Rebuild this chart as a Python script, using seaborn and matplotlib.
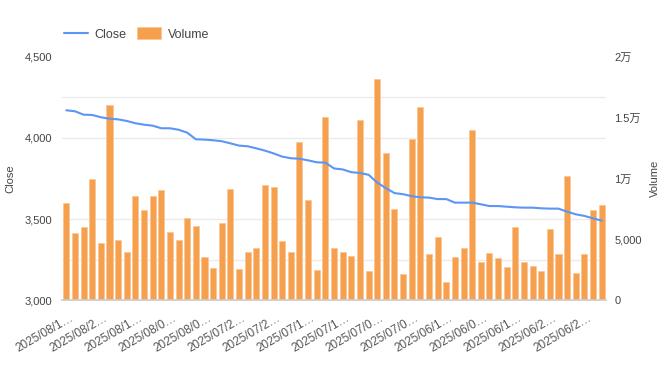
import matplotlib
matplotlib.use('Agg')
import matplotlib.pyplot as plt
import matplotlib.transforms as mtransforms
import numpy as np
import pandas as pd
import seaborn as sns

# Valores (63 pregões, do mais recente para o mais antigo)
close = [4171, 4165, 4144, 4142, 4128, 4119, 4115, 4105, 4091, 4082,
         4076, 4060, 4060, 4051, 4033, 3992, 3990, 3986, 3980, 3967,
         3953, 3949, 3936, 3922, 3905, 3885, 3875, 3872, 3862, 3850,
         3848, 3812, 3806, 3789, 3784, 3773, 3725, 3691, 3660, 3653,
         3641, 3634, 3632, 3623, 3623, 3601, 3601, 3601, 3591, 3580,
         3580, 3576, 3572, 3570, 3570, 3566, 3564, 3564, 3545, 3529,
         3519, 3504, 3490]

volume = [8000, 5550, 6040, 9920, 4730, 16040, 4920, 3910, 8520, 7430,
          8520, 9040, 5630, 4920, 6720, 6120, 3520, 2620, 6340, 9160,
          2520, 3910, 4240, 9430, 9320, 4840, 3930, 13030, 8220, 2430,
          15030, 4320, 3930, 3630, 14810, 2350, 18200, 12100, 7520, 2130,
          13220, 15900, 3750, 5220, 1450, 3550, 4240, 14020, 3140, 3830,
          3420, 2730, 6040, 3140, 2840, 2350, 5840, 3750, 10220, 2240,
          3750, 7430, 7840]

# Rótulos do eixo X (um a cada 4 barras, já truncados como no original)
date_labels = ['2025/08/1…', '2025/08/2…', '2025/08/1…', '2025/08/0…',
               '2025/08/0…', '2025/07/2…', '2025/07/2…', '2025/07/1…',
               '2025/07/1…', '2025/07/0…', '2025/07/0…', '2025/06/1…',
               '2025/06/0…', '2025/06/1…', '2025/06/2…', '2025/06/2…']

close_ticks = [3000, 3500, 4000, 4500]
volume_ticks = [0, 5000, 10000, 15000, 20000]
volume_tick_labels = ['0', '5,000', '1万', '1.5万', '2万']

df = pd.DataFrame({'idx': range(len(close)), 'Close': close, 'Volume': volume})

sns.set_theme(style='white')
plt.rcParams['font.family'] = ['Liberation Sans', 'Noto Sans CJK JP', 'DejaVu Sans']

fig = plt.figure(figsize=(6.62, 3.66), dpi=100)
ax = fig.add_axes([0.0937, 0.1803, 0.8217, 0.664])
ax2 = ax.twinx()

# Barras de volume no eixo da direita
sns.barplot(x='idx', y='Volume', data=df, ax=ax2, color='#f6a04e', saturation=1,
            width=0.7, edgecolor='#f9c696', linewidth=0.5, label='Volume')

# Grade horizontal (fica atrás das barras)
ax2.set_ylim(0, 20000)
ax2.set_yticks(np.linspace(0, 20000, 7), minor=True)
ax2.grid(True, which='minor', axis='y', color='#ebebeb', linewidth=1)
ax2.grid(False, which='major')
ax2.set_axisbelow(True)

# Linha de fechamento no eixo da esquerda, por cima das barras
ax.set_zorder(ax2.get_zorder() + 1)
ax.patch.set_visible(False)
sns.lineplot(x='idx', y='Close', data=df, ax=ax, color='#5b95f5',
             linewidth=1.5, label='Close')
ax.set_ylim(3000, 4500)
ax.grid(False)

ax.set_xlim(-0.5, len(close) - 0.5)
ax.set_xticks(range(0, len(close), 4))
ax.set_xticklabels(date_labels, rotation=30, ha='right', rotation_mode='anchor',
                   fontsize=8.5, color='#555555')
ax.tick_params(axis='x', length=0, pad=9)
shift = mtransforms.ScaledTranslation(2 / 72, 0, fig.dpi_scale_trans)
for lbl in ax.get_xticklabels():
    lbl.set_transform(lbl.get_transform() + shift)

ax.set_yticks(close_ticks)
ax.set_yticklabels([f'{v:,}' for v in close_ticks], fontsize=8, color='#444444')
ax.tick_params(axis='y', length=0, pad=7)
ax.set_ylabel('Close', fontsize=8, color='#444444', labelpad=7)
ax.set_xlabel('')

ax2.set_yticks(volume_ticks)
ax2.set_yticklabels(volume_tick_labels, fontsize=8, color='#444444')
ax2.tick_params(axis='y', which='both', length=0, pad=6)
ax2.set_ylabel('Volume', fontsize=8, color='#444444', labelpad=6)
ax2.set_xlabel('')

for a in (ax, ax2):
    for s in ['top', 'left', 'right']:
        a.spines[s].set_visible(False)
ax.spines['bottom'].set_color('#cccccc')
ax2.spines['bottom'].set_visible(False)

# Legenda combinada no topo
h1, l1 = ax.get_legend_handles_labels()
h2, l2 = ax2.get_legend_handles_labels()
if ax.get_legend():
    ax.get_legend().remove()
if ax2.get_legend():
    ax2.get_legend().remove()
fig.legend(h1 + h2, l1 + l2, loc='center left', bbox_to_anchor=(0.08, 0.907),
           ncol=2, frameon=False, fontsize=9, handlelength=1.9,
           handleheight=1.1, handletextpad=0.5, columnspacing=0.9,
           labelcolor='#444444')

fig.savefig('out.png', dpi=100)
